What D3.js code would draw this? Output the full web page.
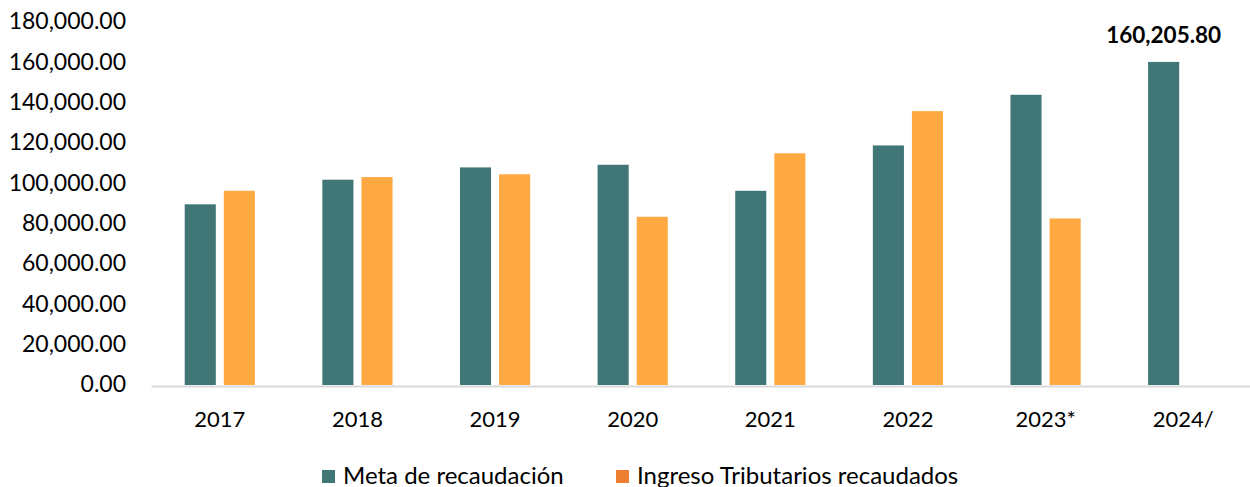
<!DOCTYPE html>
<html>
<head>
<meta charset="utf-8">
<script src="https://cdn.jsdelivr.net/npm/d3@7"></script>
<style>
  body { margin: 0; background: #fff; }
  text { font-family: Lato, "Open Sans", sans-serif; fill: #000; }
</style>
</head>
<body>
<div id="chart"></div>
<script>
// data
var years = ["2017", "2018", "2019", "2020", "2021", "2022", "2023*", "2024/"];
var meta = [89600, 101800, 107900, 109200, 96300, 118800, 143900, 160205.80];
var ingreso = [96300, 103100, 104500, 83400, 114900, 135800, 82600, null];
var seriesNames = ["Meta de recaudación", "Ingreso Tributarios recaudados"];
var yTicks = [0, 20000, 40000, 60000, 80000, 100000, 120000, 140000, 160000, 180000];

var width = 1250, height = 487;
var colors = ["#407676", "#FEA942"],
    legendColors = ["#407676", "#ED7D31"];

var svg = d3.select("#chart").append("svg")
    .attr("width", width)
    .attr("height", height);

var data = years.map((y, i) => ({ year: y, values: [meta[i], ingreso[i]] }));

// scales
var x = d3.scaleBand()
    .domain(years)
    .range([151, 1252])
    .paddingInner(0.49)
    .paddingOuter(0.245);
var x1 = d3.scaleBand()
    .domain([0, 1])
    .range([0, x.bandwidth()])
    .paddingInner(0.205);
var y = d3.scaleLinear()
    .domain([0, 180000])
    .range([385, 22]);

// y axis
var yAxis = svg.append("g")
    .attr("transform", "translate(151,0)")
    .call(d3.axisLeft(y).tickValues(yTicks).tickSize(0).tickPadding(25).tickFormat(d3.format(",.2f")));
yAxis.select(".domain").remove();
yAxis.selectAll("text")
    .style("font-family", "Lato, sans-serif")
    .style("font-size", "23px")
    .attr("dy", "0.3em")
    .attr("fill", "#000");

// bars
var groups = svg.selectAll("g.year")
    .data(data)
    .enter().append("g")
    .attr("class", "year")
    .attr("transform", d => "translate(" + x(d.year) + ",0)");

groups.selectAll("rect")
    .data(d => d.values.map((v, i) => ({ key: i, value: v })).filter(e => e.value != null))
    .enter().append("rect")
    .attr("x", d => x1(d.key))
    .attr("width", x1.bandwidth())
    .attr("y", d => y(d.value))
    .attr("height", d => y(0) - y(d.value))
    .attr("fill", d => colors[d.key]);

// x axis
var xAxis = svg.append("g")
    .attr("transform", "translate(0,386)")
    .call(d3.axisBottom(x).tickSize(0).tickPadding(25));
xAxis.select(".domain")
    .attr("stroke", "#d9d9d9")
    .attr("stroke-width", 2);
xAxis.selectAll("text")
    .style("font-family", "Lato, sans-serif")
    .style("font-size", "22px")
    .attr("fill", "#000");

// label on the last bar
var last = data[data.length - 1];
svg.append("text")
    .attr("x", x(last.year) + x1(0) + x1.bandwidth() / 2)
    .attr("y", y(last.values[0]) - 19)
    .attr("text-anchor", "middle")
    .style("font-size", "22.5px")
    .style("font-weight", "bold")
    .text(d3.format(",.2f")(last.values[0]));

// legend
var legendX = [322, 616];
var legend = svg.selectAll("g.legend")
    .data(seriesNames)
    .enter().append("g")
    .attr("class", "legend")
    .attr("transform", (d, i) => "translate(" + legendX[i] + ",470)");
legend.append("rect")
    .attr("width", 13)
    .attr("height", 13)
    .attr("fill", (d, i) => legendColors[i]);
legend.append("text")
    .attr("x", 21)
    .attr("y", 13.5)
    .style("font-size", "24px")
    .text(d => d);
</script>
</body>
</html>
